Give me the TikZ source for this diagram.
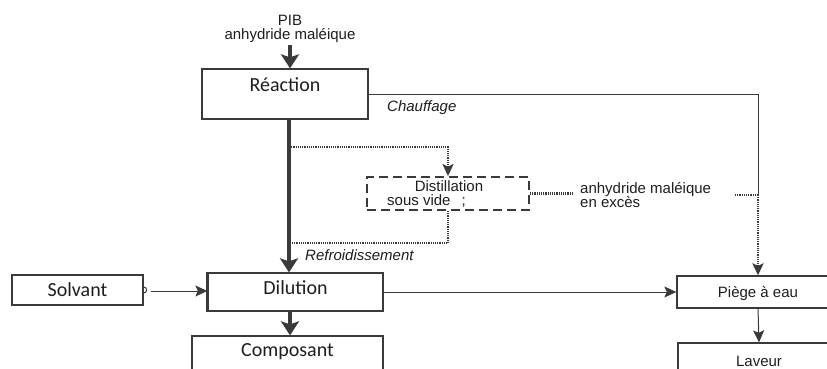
\documentclass[tikz,border=0pt]{standalone}
\usepackage{fontspec}
\setmainfont{Liberation Sans}
\newfontfamily\calfont{Carlito}
\usetikzlibrary{arrows.meta,calc}
\definecolor{ln}{HTML}{3A3A3A}
\definecolor{tx}{HTML}{1E1E1E}
\begin{document}
\begin{tikzpicture}[x=1pt,y=-1pt,
  box/.style={draw=ln,line width=1.3pt,inner sep=0pt,text=tx},
  cbox/.style={box,font=\calfont\fontsize{20}{24}\selectfont},
  abox/.style={box,font=\fontsize{15}{18}\selectfont},
  lbl/.style={inner sep=0pt,text=tx,font=\fontsize{15}{18}\selectfont},
  ilbl/.style={lbl,font=\itshape\fontsize{15}{18}\selectfont},
  bigarrow/.style={draw=ln,line width=4pt,-{Stealth[length=14pt,width=18pt,inset=3pt]}},
  thinline/.style={draw=ln,line width=1pt},
  thinarrow/.style={thinline,-{Stealth[length=12pt,width=11pt,inset=2.5pt]}},
  dots/.style={draw=ln,line width=2.2pt,dash pattern=on 1.2pt off 1pt},
]
\useasboundingbox (0,0) rectangle (827,369);
\fill[white] (0,0) rectangle (827,369);
\clip (0,0) rectangle (827,369);

% boxes
\node[cbox,minimum width=166pt,minimum height=50pt,text height=12pt,text depth=18pt] (reac) at (285,94) {Réaction};
\node[cbox,minimum width=131pt,minimum height=30pt,text height=12pt,text depth=0pt] (solv) at (77.5,290) {Solvant};
\node[cbox,minimum width=175pt,minimum height=38pt,text height=12pt,text depth=8pt] (dil) at (295.5,292) {Dilution};
\node[cbox,minimum width=191pt,minimum height=44pt,text height=12pt,text depth=16pt] (comp) at (287.5,358) {Composant};
\node[abox,minimum width=162pt,minimum height=32pt,text height=11pt,text depth=0pt] (pieg) at (758,292) {Piège à eau};
\node[abox,minimum width=162pt,minimum height=52pt,text height=11pt,text depth=17pt] (lav) at (759,369) {Laveur};
\node[draw=ln,line width=1.8pt,dash pattern=on 9pt off 5pt,minimum width=162pt,minimum height=33pt,inner sep=0pt] (dist) at (448,193.5) {};
\node[lbl,anchor=base] (dt1) at (449,191) {Distillation};
\node[lbl,anchor=base west] (dt2) at (387,205) {sous vide\hspace{11pt};};

% labels
\node[lbl,anchor=base] (pib) at (290,26) {PIB};
\node[lbl,anchor=base] (anh) at (290,40) {anhydride maléique};
\node[ilbl,anchor=base west] (chauf) at (387,111) {Chauffage};
\node[ilbl,anchor=base west] (refr) at (305,260) {Refroidissement};
\node[lbl,anchor=base west] (exc1) at (580,193) {anhydride maléique};
\node[lbl,anchor=base west] (exc2) at (580,207) {en excès};

% coordinates
\coordinate (spine) at (289,0);
\coordinate (pibtop) at (290,45);
\coordinate (d1) at (289,147);
\coordinate (d2) at (289,243);
\coordinate (e1) at (573,195);
\coordinate (e2) at (735,195);
\coordinate (rx) at (758,0);
\coordinate (sa) at (151,291);

% main flow
\draw[bigarrow] (pibtop) -- (pibtop |- reac.north);
\draw[bigarrow] (reac.south -| spine) -- (dil.north -| spine);
\draw[bigarrow] (dil.south -| pibtop) -- (comp.north -| pibtop);

% heating line
\draw[thinline] (reac.east) -- (rx |- reac.east) -- (rx |- e2);
\draw[dots,-{Stealth[length=12pt,width=11pt,inset=2.5pt]}] (rx |- e2) -- (pieg.north);

% distillation loop
\draw[dots,-{Stealth[length=12pt,width=11pt,inset=2.5pt]}] (d1) -| (dist.north);
\draw[dots] (dist.south) |- (d2);
\draw[dots] (dist.east) -- (e1 |- dist.east);
\draw[dots] (e2) -- (rx |- e2);

% other connectors
\draw[thinarrow] (sa) -- (sa -| dil.west);
\draw[thinarrow] (dil.east) -- (pieg.west);
\draw[thinarrow] (pieg.south) -- (lav.north);

% details
\draw[ln,line width=2.2pt] (dil.north west) -- (dil.south west);
\draw[ln,line width=1pt] ([yshift=3pt]solv.east) arc[start angle=90,end angle=-90,radius=3pt];
\end{tikzpicture}
\end{document}
